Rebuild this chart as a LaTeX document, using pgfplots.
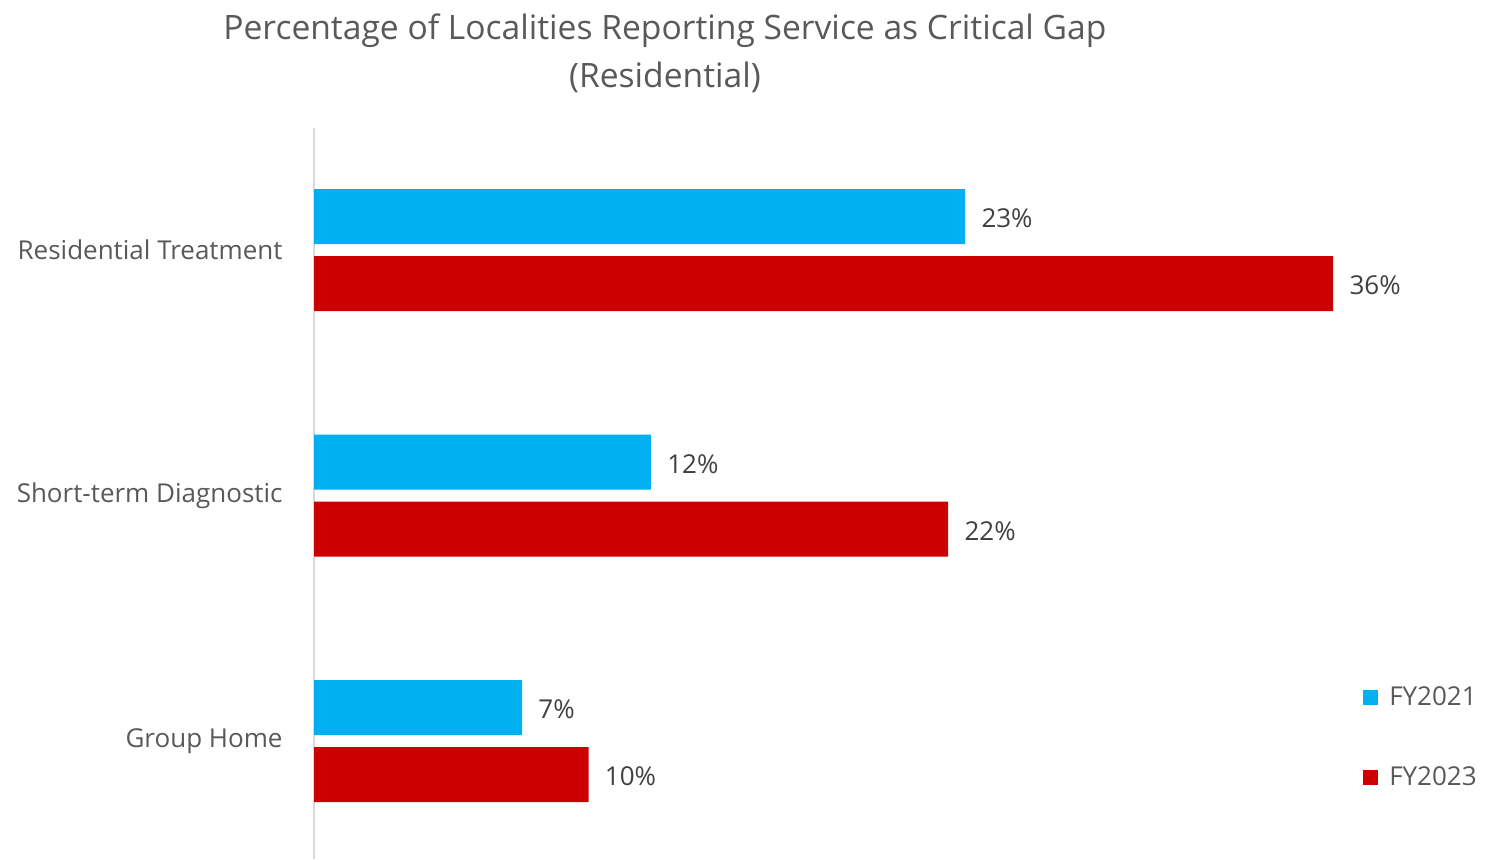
\documentclass[border=0pt]{standalone}
\usepackage{pgfplots}
\pgfplotsset{compat=1.18}
\usepackage{fontspec}
\setmainfont{Open Sans}
\definecolor{fyblue}{HTML}{00B0F0}
\definecolor{fyred}{HTML}{CC0000}
\definecolor{txtgray}{HTML}{595959}
\definecolor{lblgray}{HTML}{404040}
\definecolor{axgray}{HTML}{D9D9D9}

\begin{document}
\begin{tikzpicture}
\path[use as bounding box] (0,0) rectangle (747pt,429.5pt);
\begin{axis}[
    at={(157pt,0pt)}, anchor=south west,
    scale only axis,
    width=523pt, height=365.5pt,
    xbar, bar width=27.5pt,
    xmin=0, xmax=36.95,
    ymin=-0.48, ymax=2.497,
    axis x line=none,
    axis y line=left,
    y axis line style={-, draw=axgray, line width=1pt},
    ytick={0,1,2},
    yticklabels={Group Home, Short-term Diagnostic, Residential Treatment},
    ytick style={draw=none},
    major tick length=0pt,
    yticklabel style={font=\fontsize{13}{15}\selectfont, text=txtgray, anchor=east, inner sep=0pt, xshift=-15.5pt},
    clip=false,
    /pgf/number format/assume math mode=true,
    nodes near coords={\pgfmathprintnumber[fixed,precision=0]{\pgfplotspointmeta}\%},
    nodes near coords style={font=\fontsize{13}{15}\selectfont, text=lblgray, anchor=west, inner sep=0pt, xshift=8pt, yshift=-1pt},
    point meta=x,
    legend cell align=left,
    legend style={draw=none, fill=none, at={(0.997,0.166)}, anchor=west,
        font=\fontsize{13}{15}\selectfont, text=txtgray, row sep=27pt,
        nodes={inner sep=1pt},
        /tikz/every odd column/.append style={column sep=4.5pt}},
    legend image code/.code={\fill[#1] (0pt,-3.75pt) rectangle (7.5pt,3.75pt);},
    title={Percentage of Localities Reporting Service as Critical Gap\\(Residential)},
    title style={align=center, font=\fontsize{16.8}{24}\selectfont, text=txtgray,
        at={(0.3355,1.0)}, anchor=south, yshift=8pt},
]
\addplot[fill=fyblue, draw=none, bar shift=16.75pt] coordinates {
    (7.35,0) (11.9,1) (23.0,2)
};
\addlegendentry{FY2021}
\addplot[fill=fyred, draw=none, bar shift=-16.75pt] coordinates {
    (9.7,0) (22.4,1) (36.0,2)
};
\addlegendentry{FY2023}
\end{axis}
\end{tikzpicture}
\end{document}
